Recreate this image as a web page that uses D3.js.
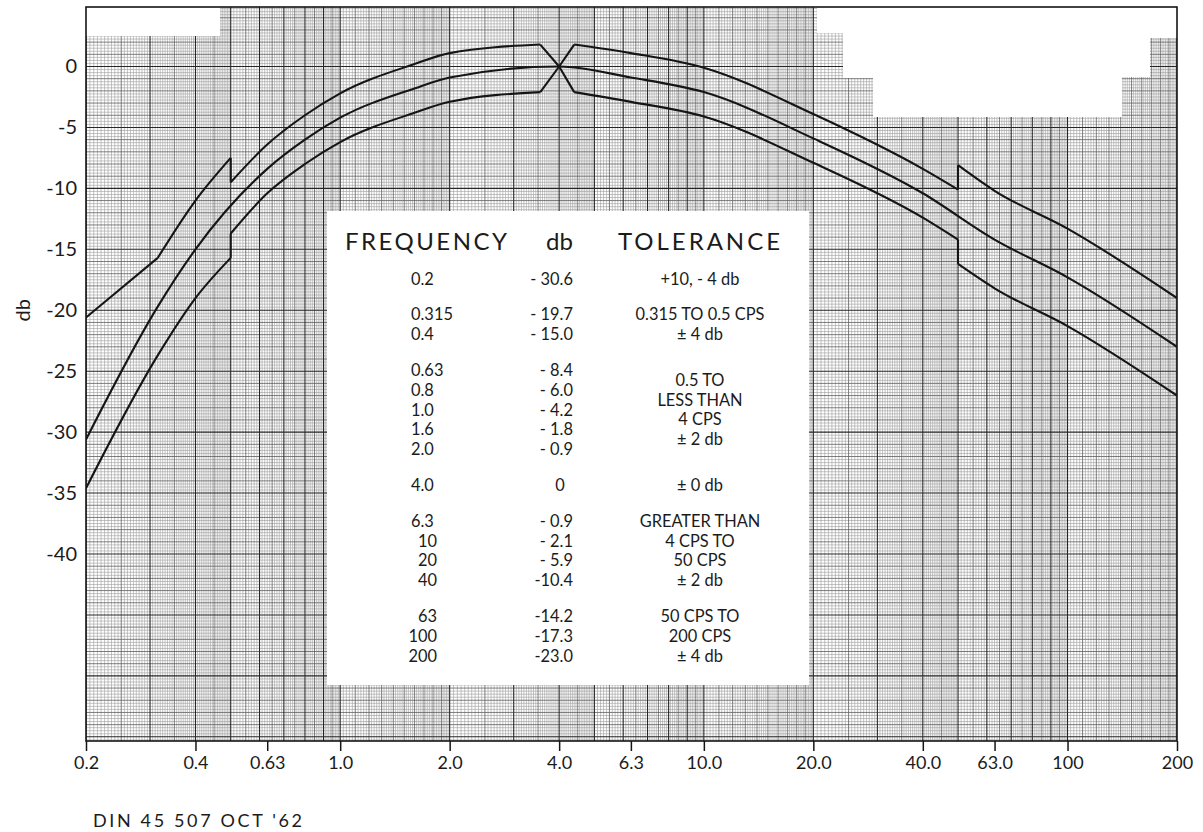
<!DOCTYPE html>
<html><head><meta charset="utf-8">
<script src="https://cdn.jsdelivr.net/npm/d3@7"></script>
<style>
body{margin:0;background:#fff}
text{font-family:Lato,"Open Sans","DejaVu Sans",sans-serif;fill:#1b1b1b}
</style></head>
<body><svg id="c" width="1203" height="832"></svg>
<script>
// ---------- data ----------
const freqTicks = [0.2,0.4,0.63,1,2,4,6.3,10,20,40,63,100,200];
const freqLabels = ["0.2","0.4","0.63","1.0","2.0","4.0","6.3","10.0","20.0","40.0","63.0","100","200"];
const dbTicks = [0,-5,-10,-15,-20,-25,-30,-35,-40];

const nominalFreq = [0.2,0.315,0.4,0.63,0.8,1.0,1.6,2.0,4.0,6.3,10,20,40,63,100,200];
const nominalDb   = [-30.6,-19.7,-15.0,-8.4,-6.0,-4.2,-1.8,-0.9,0,-0.9,-2.1,-5.9,-10.4,-14.2,-17.3,-23.0];

// tolerance limits, piece by piece (freq, db); "linear" pieces are straight, others smooth
const upperPieces = [
  {type:"linear", f:[0.2,0.315], db:[-20.6,-15.7]},
  {type:"smooth", f:[0.315,0.4,0.5], db:[-15.7,-11.0,-7.5]},
  {type:"linear", f:[0.5,0.5], db:[-7.5,-9.5]},
  {type:"smooth", f:[0.5,0.63,0.8,1.0,1.6,2.0,3.55], db:[-9.5,-6.4,-4.0,-2.2,0.2,1.1,1.8]},
  {type:"linear", f:[3.55,4.0,4.4], db:[1.8,0,1.8]},
  {type:"smooth", f:[4.4,6.3,10,20,40,50], db:[1.8,1.1,-0.1,-3.9,-8.4,-10.1]},
  {type:"linear", f:[50,50], db:[-10.1,-8.1]},
  {type:"smooth", f:[50,63,100,200], db:[-8.1,-10.2,-13.3,-19.0]}
];
const lowerPieces = [
  {type:"smooth", f:[0.2,0.315,0.4,0.5], db:[-34.6,-23.7,-19.0,-15.7]},
  {type:"linear", f:[0.5,0.5], db:[-15.7,-13.7]},
  {type:"smooth", f:[0.5,0.63,0.8,1.0,1.6,2.0,3.55], db:[-13.7,-10.4,-8.0,-6.2,-3.8,-2.9,-2.1]},
  {type:"linear", f:[3.55,4.0,4.4], db:[-2.1,0,-2.1]},
  {type:"smooth", f:[4.4,6.3,10,20,40,50], db:[-2.1,-2.9,-4.1,-7.9,-12.4,-14.2]},
  {type:"linear", f:[50,50], db:[-14.2,-16.2]},
  {type:"smooth", f:[50,63,100,200], db:[-16.2,-18.2,-21.3,-27.0]}
];

const tableFreq = ["0.2","0.315","0.4","0.63","0.8","1.0","1.6","2.0","4.0","6.3","10","20","40","63","100","200"];
const tableDb   = ["- 30.6","- 19.7","- 15.0","- 8.4","- 6.0","- 4.2","- 1.8","- 0.9","0","- 0.9","- 2.1","- 5.9","-10.4","-14.2","-17.3","-23.0"];
const tableGroup = [0,1,1,2,2,2,2,2,3,4,4,4,4,5,5,5];
const toleranceText = [
  ["+10, - 4 db"],
  ["0.315 TO 0.5 CPS","± 4 db"],
  ["0.5 TO","LESS THAN","4 CPS","± 2 db"],
  ["± 0 db"],
  ["GREATER THAN","4 CPS TO","50 CPS","± 2 db"],
  ["50 CPS TO","200 CPS","± 4 db"]
];
const headers = ["FREQUENCY","db","TOLERANCE"];
const yTitle = "db";
const footer = "DIN 45 507 OCT '62";

// ---------- layout ----------
const svg = d3.select("#c");
const L=86, R=1177, T=7, B=741;
const x = d3.scaleLog().domain([0.2,200]).range([L,R]);
const y = d3.scaleLinear().domain([0,-40]).range([66.5,554]);

svg.append("rect").attr("width",1203).attr("height",832).attr("fill","#fff");
svg.append("clipPath").attr("id","clip").append("rect").attr("x",L).attr("y",T).attr("width",R-L).attr("height",B-T);

const grid = svg.append("g").attr("clip-path","url(#clip)");
const styles = {fine:{c:"#9c9c9c",w:0.6}, mid:{c:"#5e5e5e",w:0.8}, heavy:{c:"#262626",w:1.1}};
// horizontal graph-paper lines
const hLines=[];
const dbTop=y.invert(T), dbBot=y.invert(B);
for(let k=Math.ceil(dbBot*4);k<=Math.floor(dbTop*4);k++){
  const cls = (k%20===0)?"heavy":(k%4===0)?"mid":"fine";
  hLines.push({v:k/4,cls});
}
// vertical log lines
const vLines=[];
[0.1,1,10,100].forEach(dec=>{
  for(let i=0;i<50;i++){const m=1+i*0.02; vLines.push({v:m*dec,cls:i===0?"heavy":(i%5===0?"mid":"fine")});}
  for(let i=0;i<60;i++){const m=2+i*0.05; vLines.push({v:m*dec,cls:i%20===0?"heavy":(i%10===0?"mid":"fine")});}
  for(let i=0;i<50;i++){const m=5+i*0.1; vLines.push({v:m*dec,cls:i%10===0?"heavy":(i%5===0?"mid":"fine")});}
});
["fine","mid","heavy"].forEach(cls=>{
  grid.selectAll("line.h"+cls).data(hLines.filter(d=>d.cls===cls)).join("line")
    .attr("x1",L).attr("x2",R).attr("y1",d=>y(d.v)).attr("y2",d=>y(d.v))
    .attr("stroke",styles[cls].c).attr("stroke-width",styles[cls].w);
  grid.selectAll("line.v"+cls).data(vLines.filter(d=>d.cls===cls && d.v>=0.2-1e-9 && d.v<=200+1e-9)).join("line")
    .attr("y1",T).attr("y2",B).attr("x1",d=>x(d.v)).attr("x2",d=>x(d.v))
    .attr("stroke",styles[cls].c).attr("stroke-width",styles[cls].w);
});

// white patches on the paper
grid.append("rect").attr("x",L).attr("y",T).attr("width",220-L).attr("height",36-T).attr("fill","#fff");
grid.append("polygon").attr("fill","#fff").attr("points",
  [[817,T],[R,T],[R,38],[1150,38],[1150,77],[1122,77],[1122,117],[873,117],[873,78],[843,78],[843,33],[817,33]].map(p=>p.join(",")).join(" "));
// table panel
const tb = {x:327,y:211,w:482,h:474};
svg.append("rect").attr("x",tb.x).attr("y",tb.y).attr("width",tb.w).attr("height",tb.h).attr("fill","#fff");

// curves
const lineGen = (curve)=>d3.line().x(d=>x(d[0])).y(d=>y(d[1])).curve(curve);
const curves = svg.append("g").attr("clip-path","url(#clip)").attr("fill","none").attr("stroke","#151515").attr("stroke-width",2.1).attr("stroke-linejoin","round");
curves.append("path").attr("d", lineGen(d3.curveMonotoneX)(nominalFreq.map((f,i)=>[f,nominalDb[i]])));
[...upperPieces,...lowerPieces].forEach(p=>{
  const pts = p.f.map((f,i)=>[f,p.db[i]]);
  curves.append("path").attr("d", lineGen(p.type==="smooth"?d3.curveMonotoneX:d3.curveLinear)(pts));
});

// frame
svg.append("rect").attr("x",L).attr("y",T).attr("width",R-L).attr("height",B-T).attr("fill","none").attr("stroke","#151515").attr("stroke-width",1.6);

// axes
const xa = svg.append("g").attr("transform",`translate(0,${B})`)
  .call(d3.axisBottom(x).tickValues(freqTicks).tickFormat((d,i)=>freqLabels[i]).tickSize(10).tickPadding(5));
xa.select(".domain").remove();
xa.selectAll("line").attr("stroke","#151515").attr("stroke-width",1.5);
xa.selectAll("text").attr("font-size",18).attr("font-family","Lato, sans-serif").attr("fill","#1b1b1b");

const ya = svg.append("g").attr("transform",`translate(${L},0)`)
  .call(d3.axisLeft(y).tickValues(dbTicks).tickFormat(d=>d===0?"0":"-"+Math.abs(d)).tickSize(0).tickPadding(9));
ya.select(".domain").remove();
ya.selectAll("text").attr("font-size",20).attr("font-family","Lato, sans-serif").attr("fill","#1b1b1b");

svg.append("text").attr("transform",`translate(22,${y(-20)}) rotate(-90)`).attr("text-anchor","middle")
  .attr("dominant-baseline","central").attr("font-size",20).text(yTitle);

// table text
const hdr = svg.append("g").attr("font-size",24);
hdr.append("text").attr("x",345).attr("y",240).attr("dominant-baseline","central").attr("textLength",162).attr("lengthAdjust","spacing").text(headers[0]);
hdr.append("text").attr("x",546).attr("y",240).attr("dominant-baseline","central").text(headers[1]);
hdr.append("text").attr("x",618).attr("y",240).attr("dominant-baseline","central").attr("textLength",162).attr("lengthAdjust","spacing").text(headers[2]);

const rowH = 19.8, gapH = 16;
const rowY = (i)=>278 + i*rowH + tableGroup[i]*gapH;
const rows = svg.append("g").attr("font-size",16.4);
tableFreq.forEach((t,i)=>{
  const dec = t.indexOf(".")>=0;
  rows.append("text").attr("x",dec?411:437).attr("y",rowY(i)).attr("text-anchor",dec?"start":"end")
    .attr("dominant-baseline","central").text(t);
  rows.append("text").attr("x",t==="4.0"?560:573).attr("y",rowY(i)).attr("text-anchor",t==="4.0"?"middle":"end")
    .attr("dominant-baseline","central").text(tableDb[i]);
});
toleranceText.forEach((lines,g)=>{
  const idx = tableGroup.map((gg,i)=>gg===g?i:-1).filter(i=>i>=0);
  const cy = d3.mean(idx.map(rowY));
  lines.forEach((t,j)=>{
    rows.append("text").attr("x",700).attr("y",cy+(j-(lines.length-1)/2)*rowH).attr("text-anchor","middle")
      .attr("dominant-baseline","central").attr("font-size",16.4).text(t);
  });
});

svg.append("text").attr("x",93).attr("y",820).attr("dominant-baseline","central").attr("font-size",18)
  .attr("textLength",209).attr("lengthAdjust","spacing").text(footer);
</script></body></html>
